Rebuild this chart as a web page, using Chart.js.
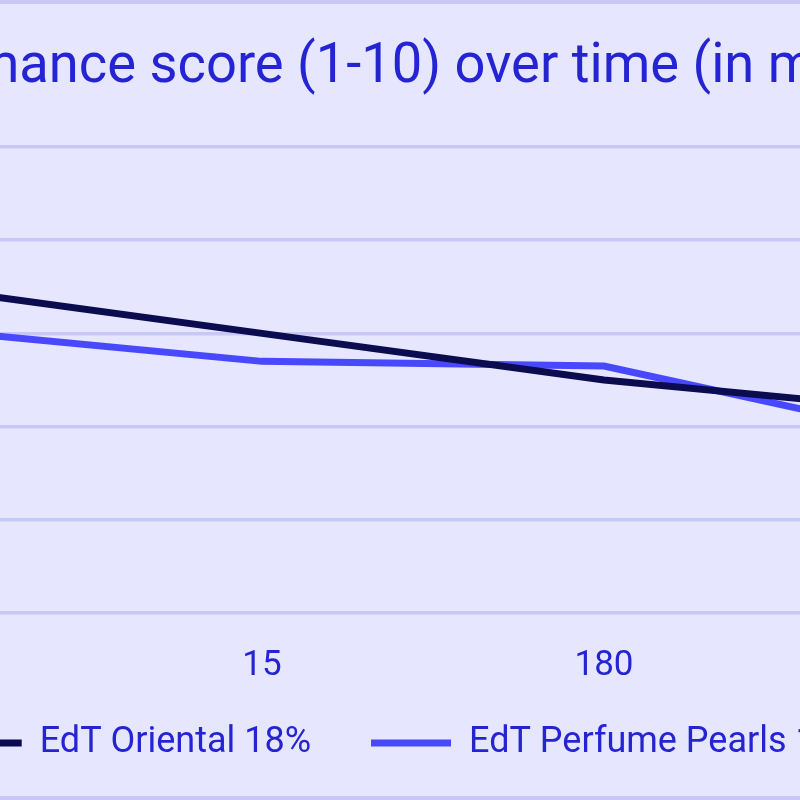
<!DOCTYPE html>
<html lang="en">
<head>
    <meta charset="UTF-8">
    <title>Performance score over time</title>
    <script src="https://cdn.jsdelivr.net/npm/chart.js"></script>
    <style>
        * {
            margin: 0;
            padding: 0;
            box-sizing: border-box;
        }
        body {
            background: #e6e6ff;
            width: 800px;
            height: 800px;
            overflow: hidden;
            position: relative;
        }
        /* the chart is wider than the window, only the middle part shows */
        .chart-container {
            position: absolute;
            left: -178px;
            top: 0;
            width: 1160px;
            height: 800px;
        }
        .edge {
            position: absolute;
            left: 0;
            width: 800px;
            height: 4px;
            background: #c8c8f6;
        }
        .edge.top { top: 0; }
        .edge.bottom { bottom: 0; }
    </style>
</head>
<body>
    <div class="chart-container">
        <canvas id="scoreChart"></canvas>
    </div>
    <div class="edge top"></div>
    <div class="edge bottom"></div>

    <script>
        const minutes = ['0', '15', '180', '360'];
        const orientalScores = [7.0, 6.0, 5.0, 4.3];
        const pearlsScores = [6.1, 5.4, 5.3, 3.7];
        const yTicks = [0, 2, 4, 6, 8, 10];

        const textColor = '#2424d2';
        const gridColor = '#c8c8f6';
        const fontFamily = 'Roboto, "Liberation Sans", sans-serif';

        const ctx = document.getElementById('scoreChart').getContext('2d');
        const scoreChart = new Chart(ctx, {
            type: 'line',
            data: {
                labels: minutes,
                datasets: [
                    {
                        label: 'EdT Oriental 18%',
                        data: orientalScores,
                        borderColor: '#0b0b4f',
                        backgroundColor: '#0b0b4f',
                        borderWidth: 7,
                        borderCapStyle: 'round',
                        pointRadius: 0,
                        pointStyle: 'line',
                        tension: 0
                    },
                    {
                        label: 'EdT Perfume Pearls 18%',
                        data: pearlsScores,
                        borderColor: '#4848ff',
                        backgroundColor: '#4848ff',
                        borderWidth: 7,
                        borderCapStyle: 'round',
                        pointRadius: 0,
                        pointStyle: 'line',
                        tension: 0
                    }
                ]
            },
            options: {
                responsive: true,
                maintainAspectRatio: false,
                animation: false,
                layout: { padding: { left: 0, right: 0, top: 0, bottom: 29 } },
                plugins: {
                    title: {
                        display: true,
                        text: 'Performance score (1-10) over time (in minutes)',
                        color: textColor,
                        font: { family: fontFamily, size: 55, weight: 'normal' },
                        padding: { top: 35, bottom: 46 }
                    },
                    legend: {
                        position: 'bottom',
                        labels: {
                            usePointStyle: true,
                            pointStyleWidth: 80,
                            padding: 14,
                            color: textColor,
                            font: { family: fontFamily, size: 36 },
                            // more room between the two entries
                            generateLabels: chart => {
                                const items = Chart.defaults.plugins.legend.labels.generateLabels(chart);
                                items.forEach((it, i) => { if (i < items.length - 1) it.text += '\u2003\u2005'; });
                                return items;
                            }
                        }
                    },
                    tooltip: { enabled: false }
                },
                scales: {
                    x: {
                        offset: false,
                        grid: { display: false },
                        border: { display: false },
                        ticks: {
                            color: textColor,
                            font: { family: fontFamily, size: 35 },
                            padding: 24
                        },
                        afterFit: s => { s.paddingLeft = 0; s.paddingRight = 36; }
                    },
                    y: {
                        min: yTicks[0],
                        max: yTicks[yTicks.length - 1],
                        afterBuildTicks: s => { s.ticks = yTicks.map(v => ({ value: v })); },
                        grid: { color: gridColor, lineWidth: 3.5, drawTicks: false },
                        border: { display: false },
                        ticks: {
                            color: textColor,
                            font: { family: fontFamily, size: 35 },
                            padding: 20
                        },
                        afterFit: s => { s.width = 98; }
                    }
                }
            }
        });
    </script>
</body>
</html>
